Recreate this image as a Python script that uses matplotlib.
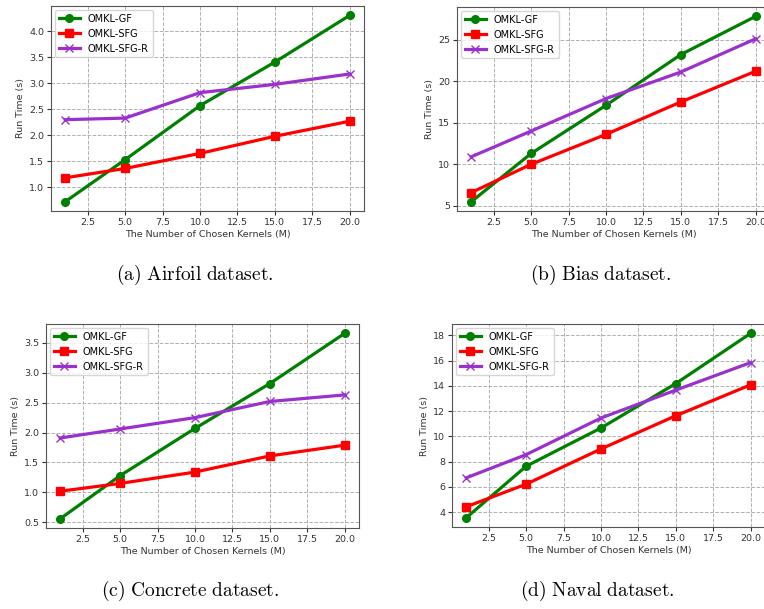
import matplotlib
matplotlib.use("Agg")
import matplotlib.pyplot as plt

plt.rcParams['mathtext.fontset'] = 'cm'
plt.rcParams['font.size'] = 6.8

# Data
M = [1, 5, 10, 15, 20]

airfoil_gf = [0.72, 1.53, 2.57, 3.41, 4.31]
airfoil_sfg = [1.18, 1.36, 1.65, 1.98, 2.27]
airfoil_sfgr = [2.30, 2.33, 2.82, 2.98, 3.18]

bias_gf = [5.5, 11.3, 17.1, 23.2, 27.8]
bias_sfg = [6.6, 10.0, 13.6, 17.5, 21.2]
bias_sfgr = [10.9, 14.0, 17.9, 21.1, 25.1]

concrete_gf = [0.56, 1.28, 2.07, 2.82, 3.66]
concrete_sfg = [1.02, 1.15, 1.34, 1.61, 1.79]
concrete_sfgr = [1.91, 2.06, 2.25, 2.52, 2.63]

naval_gf = [3.55, 7.63, 10.66, 14.18, 18.16]
naval_sfg = [4.42, 6.21, 9.0, 11.63, 14.08]
naval_sfgr = [6.71, 8.55, 11.45, 13.66, 15.84]

captions = ['(a) Airfoil dataset.', '(b) Bias dataset.',
            '(c) Concrete dataset.', '(d) Naval dataset.']

W, H = 764, 609
fig = plt.figure(figsize=(W / 100, H / 100), dpi=100)


def px_axes(left, top, right, bottom):
    return fig.add_axes([left / W, 1 - bottom / H, (right - left) / W, (bottom - top) / H])


panels = [
    (px_axes(51, 6, 364, 211), airfoil_gf, airfoil_sfg, airfoil_sfgr),
    (px_axes(457, 7, 770, 211), bias_gf, bias_sfg, bias_sfgr),
    (px_axes(46, 324, 359, 528), concrete_gf, concrete_sfg, concrete_sfgr),
    (px_axes(452, 324, 765, 527), naval_gf, naval_sfg, naval_sfgr),
]

for ax, gf, sfg, sfgr in panels:
    ax.plot(M, gf, color='green', marker='o', lw=2.3, ms=5.5, label='OMKL-GF')
    ax.plot(M, sfg, color='red', marker='s', lw=2.3, ms=5.5, label='OMKL-SFG')
    ax.plot(M, sfgr, color='darkorchid', marker='x', lw=2.3, ms=5.5, label='OMKL-SFG-R')
    ax.grid(True, linestyle='--', color='#b0b0b0', lw=0.7)
    ax.set_xlabel('The Number of Chosen Kernels (M)', color='#333333', labelpad=2)
    ax.set_ylabel('Run Time (s)', color='#333333', labelpad=3)
    ax.tick_params(colors='#333333', labelsize=6.8, length=3, pad=2)
    for s in ax.spines.values():
        s.set_color('#555555')
    ax.legend(loc='upper left', fontsize=7, handlelength=2.2, borderaxespad=0.4)

cap_pos = [(195, 275), (601, 275), (190, 591), (597, 591)]
for (cx, cy), cap in zip(cap_pos, captions):
    txt = r'$\mathrm{' + cap.replace(' ', r'\ ') + '}$'
    fig.text(cx / W, 1 - cy / H, txt, ha='center', va='center', fontsize=14)

fig.savefig('out.png', dpi=100)
